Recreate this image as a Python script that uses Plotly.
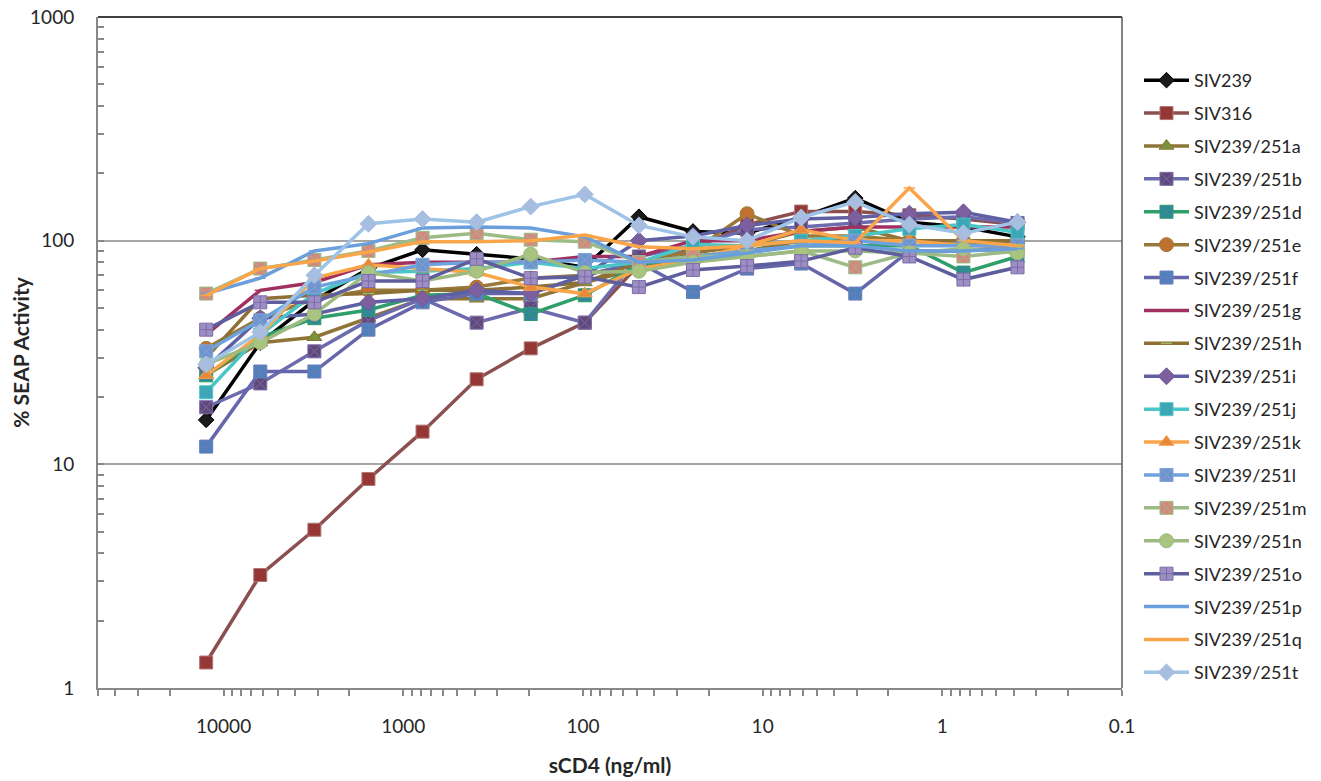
import plotly.graph_objects as go

# sCD4 concentrations (ng/ml), two-fold dilutions
sCD4 = [12500, 6250, 3125, 1562.5, 781.25, 390.625, 195.3125, 97.65625,
        48.828125, 24.4140625, 12.20703125, 6.103515625, 3.0517578125,
        1.52587890625, 0.762939453125, 0.3814697265625]

SIV239    = [15.8, 35, 54, 75, 91, 87, 83, 76, 128, 110, 108, 127, 155, 121, 115, 104]
SIV316    = [1.3, 3.2, 5.1, 8.6, 14, 24, 33, 43, 78, 92, 118, 135, 135, 130, 125, 118]
SIV251a   = [25, 35, 37, 45, 55, 55, 55, 65, 75, 88, 95, 110, 115, 100, 95, 100]
SIV251b   = [18, 23, 32, 44, 55, 43, 50, 43, 85, 95, 112, 115, 120, 125, 128, 120]
SIV251d   = [25, 37, 45, 49, 57, 58, 47, 57, 78, 85, 90, 95, 95, 95, 72, 85]
SIV251e   = [33, 45, 55, 60, 60, 62, 68, 70, 80, 90, 132, 105, 105, 100, 100, 100]
SIV251f   = [12, 26, 26, 40, 53, 58, 58, 70, 80, 59, 75, 79, 58, 90, 90, 95]
SIV251g   = [38, 60, 65, 78, 80, 80, 80, 85, 85, 100, 100, 110, 115, 115, 115, 115]
SIV251h   = [30, 55, 57, 58, 60, 60, 62, 65, 80, 85, 90, 100, 100, 100, 100, 100]
SIV251i   = [27, 45, 47, 53, 55, 60, 58, 70, 100, 105, 117, 125, 127, 132, 134, 121]
SIV251j   = [21, 38, 58, 72, 73, 75, 80, 75, 80, 96, 95, 100, 105, 113, 118, 109]
SIV251k   = [25, 38, 68, 78, 75, 72, 62, 58, 75, 82, 95, 112, 100, 100, 95, 95]
SIV251l   = [32, 44, 62, 70, 78, 80, 80, 82, 80, 85, 90, 95, 100, 95, 95, 95]
SIV251m   = [58, 75, 82, 90, 103, 108, 101, 99, 80, 85, 85, 90, 76, 88, 85, 90]
SIV251n   = [28, 35, 47, 72, 66, 73, 87, 72, 73, 80, 85, 90, 90, 88, 92, 88]
SIV251o   = [40, 53, 53, 66, 66, 83, 68, 69, 62, 74, 77, 81, 93, 85, 67, 76]
SIV251p   = [58, 68, 90, 97, 114, 115, 114, 104, 80, 82, 88, 95, 95, 90, 90, 92]
SIV251q   = [57, 75, 81, 89, 99, 99, 100, 106, 94, 92, 95, 100, 98, 172, 100, 95]
SIV251t   = [28, 39, 70, 119, 125, 121, 142, 161, 117, 104, 100, 127, 149, 118, 108, 121]

series = [
    ("SIV239", SIV239), ("SIV316", SIV316), ("SIV239/251a", SIV251a),
    ("SIV239/251b", SIV251b), ("SIV239/251d", SIV251d), ("SIV239/251e", SIV251e),
    ("SIV239/251f", SIV251f), ("SIV239/251g", SIV251g), ("SIV239/251h", SIV251h),
    ("SIV239/251i", SIV251i), ("SIV239/251j", SIV251j), ("SIV239/251k", SIV251k),
    ("SIV239/251l", SIV251l), ("SIV239/251m", SIV251m), ("SIV239/251n", SIV251n),
    ("SIV239/251o", SIV251o), ("SIV239/251p", SIV251p), ("SIV239/251q", SIV251q),
    ("SIV239/251t", SIV251t),
]

# style: line color, marker symbol, marker fill, marker outline, marker size
styles = {
    "SIV239":      ("#000000", "diamond", "#1a1a1a", "#000000", 12),
    "SIV316":      ("#8C4F4F", "square", "#953735", "#B07676", 13),
    "SIV239/251a": ("#8F7437", "triangle-up", "#77933C", "#8F7437", 13),
    "SIV239/251b": ("#6B6BAE", "square-x", "#5F497A", "#7D6BA8", 13),
    "SIV239/251d": ("#2E9E6B", "square-x", "#31859C", "#2E9E6B", 13),
    "SIV239/251e": ("#98793A", "circle", "#C0712F", "#A07A3A", 14),
    "SIV239/251f": ("#6666AA", "square-cross", "#4F81BD", "#6B7DBA", 13),
    "SIV239/251g": ("#A0305F", "line-ew-open", "#A0305F", "#A0305F", 8),
    "SIV239/251h": ("#8E7034", "line-ew-open", "#9BBB59", "#9BBB59", 8),
    "SIV239/251i": ("#5F5FA3", "diamond", "#7D5FA0", "#6A5A9E", 13),
    "SIV239/251j": ("#4BC6C6", "square", "#3FA6B8", "#4BC6C6", 13),
    "SIV239/251k": ("#F9A64B", "triangle-up", "#E8893A", "#F0A050", 13),
    "SIV239/251l": ("#6EA2DC", "square-x", "#6F93CC", "#7FA6DA", 13),
    "SIV239/251m": ("#9DBB86", "square-x", "#D4877F", "#9DBB86", 13),
    "SIV239/251n": ("#9DBB80", "circle", "#A9C47F", "#9DBB80", 14),
    "SIV239/251o": ("#5E5E9F", "square-cross", "#9E8EC3", "#7A6DAA", 13),
    "SIV239/251p": ("#6A9FDB", "line-ew-open", "#6A9FDB", "#6A9FDB", 8),
    "SIV239/251q": ("#FAA54A", "line-ew-open", "#FAA54A", "#FAA54A", 8),
    "SIV239/251t": ("#9DC3E6", "diamond", "#A8BEE0", "#A8BEE0", 13),
}

fig = go.Figure()
for name, vals in series:
    lc, sym, mc, mlc, ms = styles[name]
    fig.add_trace(go.Scatter(
        x=sCD4, y=vals, name=name, mode="lines+markers",
        legendgroup=name,
        line=dict(color=lc, width=3.5),
        marker=dict(symbol=sym, color=mc, size=ms,
                    line=dict(color=mlc, width=1.5 if "line-ew" in sym else 1)),
    ))

x_major = [10000, 1000, 100, 10, 1, 0.1]
x_minor = []
for dec in [0.1, 1, 10, 100, 1000, 10000]:
    for m in range(2, 10):
        v = dec * m
        if v <= 50000:
            x_minor.append(v)
y_major = [1, 10, 100, 1000]
y_minor = [d * m for d in [1, 10, 100] for m in range(2, 10)]

font_family = "Lato, Open Sans, sans-serif"

fig.update_layout(
    width=1313, height=773,
    margin=dict(l=90, r=199, t=9, b=93, autoexpand=False),
    paper_bgcolor="white", plot_bgcolor="white",
    font=dict(family=font_family, size=18, color="#262626"),
    showlegend=True,
    legend=dict(x=1.0166, y=0.933, xanchor="left", yanchor="top",
                font=dict(size=18, color="#262626"), itemwidth=45,
                tracegroupgap=6.5, bgcolor="rgba(0,0,0,0)"),
    xaxis=dict(
        type="log", range=[4.699, -1], automargin=False,
        tickmode="array", tickvals=x_major, ticktext=["10000", "1000", "100", "10", "1", "0.1"],
        ticks="outside", ticklen=6, tickwidth=1.5, tickcolor="#888888",
        minor=dict(tickmode="array", tickvals=x_minor, ticks="outside", ticklen=6,
                   tickwidth=1.5, tickcolor="#888888", showgrid=False),
        showline=True, linecolor="#888888", linewidth=2,
        showgrid=False, zeroline=False,
        ticklabelstandoff=14, ticklabeloverflow="allow",
        tickfont=dict(size=19, color="#262626"),
        title=dict(text="<b>sCD4 (ng/ml)</b>", font=dict(size=21, color="#262626"), standoff=23),
    ),
    yaxis=dict(
        type="log", range=[0, 3], automargin=False,
        tickmode="array", tickvals=y_major, ticktext=["1", "10", "100", "1000"],
        ticks="inside", ticklen=6, tickwidth=1.5, tickcolor="#888888",
        minor=dict(tickmode="array", tickvals=y_minor, ticks="inside", ticklen=6,
                   tickwidth=1.5, tickcolor="#888888", showgrid=False),
        showline=True, linecolor="#888888", linewidth=2,
        showgrid=True, gridcolor="#A6A6A6", gridwidth=1.5, zeroline=False,
        ticklabelstandoff=18, ticklabeloverflow="allow",
        tickfont=dict(size=19, color="#262626"),
        title=dict(text="<b>% SEAP Activity</b>", font=dict(size=21, color="#262626"), standoff=17),
    ),
    shapes=[
        dict(type="line", xref="paper", yref="paper", x0=0, x1=1, y0=1, y1=1,
             line=dict(color="#404040", width=2), layer="above"),
        dict(type="line", xref="paper", yref="paper", x0=1, x1=1, y0=0, y1=1,
             line=dict(color="#595959", width=1.5), layer="above"),
    ],
)

fig.write_html("out.html")
